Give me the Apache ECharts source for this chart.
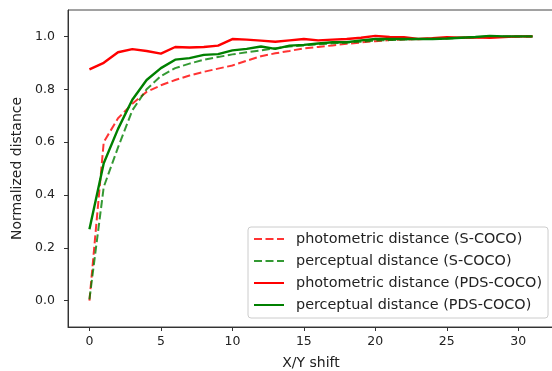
<!DOCTYPE html>
<html>
<head>
<meta charset="utf-8">
<script src="https://cdn.jsdelivr.net/npm/echarts@6/dist/echarts.min.js"></script>
<style>
html,body{margin:0;padding:0;background:#fff;}
#chart{width:552px;height:371px;}
</style>
</head>
<body>
<div id="chart"></div>
<script>
const shifts = [0,1,2,3,4,5,6,7,8,9,10,11,12,13,14,15,16,17,18,19,20,21,22,23,24,25,26,27,28,29,30,31];
const photoS = [0.0,0.60,0.69,0.745,0.79,0.815,0.835,0.852,0.866,0.878,0.89,0.908,0.925,0.936,0.945,0.955,0.96,0.966,0.972,0.977,0.982,0.986,0.988,0.99,0.992,0.993,0.995,0.996,0.997,0.998,0.999,1.0];
const percS = [0.005,0.43,0.58,0.72,0.80,0.85,0.88,0.897,0.912,0.922,0.932,0.94,0.947,0.955,0.962,0.966,0.97,0.974,0.977,0.98,0.984,0.986,0.988,0.99,0.99,0.992,0.995,0.997,0.999,1.0,1.0,1.0];
const photoPDS = [0.875,0.90,0.94,0.952,0.945,0.935,0.96,0.958,0.96,0.965,0.99,0.988,0.984,0.98,0.985,0.99,0.985,0.988,0.99,0.995,1.002,0.998,0.997,0.99,0.993,0.997,0.995,0.997,0.995,0.998,1.0,1.0];
const percPDS = [0.27,0.52,0.65,0.76,0.835,0.88,0.912,0.918,0.93,0.933,0.947,0.953,0.962,0.953,0.965,0.968,0.973,0.978,0.978,0.985,0.99,0.99,0.99,0.99,0.99,0.992,0.995,0.998,1.002,1.0,1.0,1.0];
const xTicks = [0,5,10,15,20,25,30];
const yTicks = [0,0.2,0.4,0.6,0.8,1.0];
const names = ['photometric distance (S-COCO)','perceptual distance (S-COCO)','photometric distance (PDS-COCO)','perceptual distance (PDS-COCO)'];

const pairs = arr => shifts.map((x,i)=>[x,arr[i]]);
const font = 'DejaVu Sans';
const chart = echarts.init(document.getElementById('chart'), null, {renderer:'canvas'});
function mk(name, arr, color, dashed){
  return {
    name, type:'line', data:pairs(arr), symbol:'none', showSymbol:false,
    lineStyle:{color, width: dashed?2:2.4, type: dashed?[8,3.5]:'solid', opacity: dashed?0.8:1},
    itemStyle:{color, opacity: dashed?0.8:1},
    emphasis:{disabled:true}, animation:false
  };
}
chart.setOption({
  animation:false,
  grid:{left:68, top:10, width:486, height:317, containLabel:false, outerBoundsMode:'none',
        show:true, borderColor:'#444', borderWidth:1, backgroundColor:'transparent'},
  xAxis:{
    type:'value', min:-1.5, max:32.5,
    name:'X/Y shift', nameLocation:'middle', nameGap:29,
    nameTextStyle:{fontFamily:font, fontSize:14, color:'#222'},
    axisLine:{onZero:false, lineStyle:{color:'#333'}},
    axisTick:{show:true, length:4, lineStyle:{color:'#333'}, customValues:xTicks},
    axisLabel:{fontFamily:font, fontSize:12.5, color:'#222', margin:8, customValues:xTicks},
    splitLine:{show:false}
  },
  yAxis:{
    type:'value', min:-0.1, max:1.1,
    name:'Normalized distance', nameLocation:'middle', nameGap:42,
    nameTextStyle:{fontFamily:font, fontSize:14, color:'#222'},
    axisLine:{show:true, onZero:false, lineStyle:{color:'#333'}},
    axisTick:{show:true, length:4, lineStyle:{color:'#333'}, customValues:yTicks},
    axisLabel:{fontFamily:font, fontSize:12.5, color:'#222', margin:13, customValues:yTicks, formatter:v=>v.toFixed(1)},
    splitLine:{show:false}
  },
  legend:{
    orient:'vertical', left:248, top:227,
    itemWidth:30, itemHeight:14, itemGap:8,
    padding:[5,6,6,5],
    borderColor:'#ccc', borderWidth:1, borderRadius:3, backgroundColor:'rgba(255,255,255,0.8)',
    itemStyle:{opacity:0},
    textStyle:{fontFamily:font, fontSize:14.4, color:'#222', padding:[0,0,0,7]},
    data:names
  },
  series:[
    mk(names[0], photoS, '#ff0000', true),
    mk(names[1], percS, '#008000', true),
    mk(names[2], photoPDS, '#ff0000', false),
    mk(names[3], percPDS, '#008000', false)
  ]
});
</script>
</body>
</html>
